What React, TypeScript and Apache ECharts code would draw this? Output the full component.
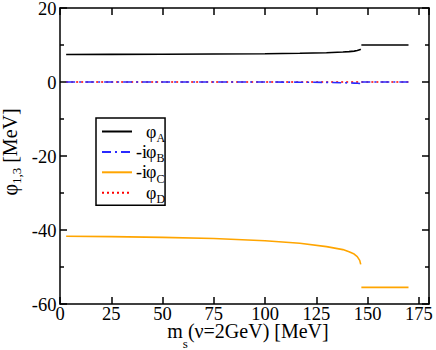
import React, { useEffect, useRef } from "react";
import * as echarts from "echarts";

const xLeft = [3, 25, 50, 75, 100, 117, 130, 138, 141, 143.5, 145, 146.2, 146.7];
const xRight = [147, 170];
const phiALeft = [7.45, 7.47, 7.5, 7.57, 7.65, 7.75, 7.9, 8.1, 8.2, 8.35, 8.5, 8.7, 8.9];
const phiARight = [10, 10];
const phiBLeft = [0, 0, 0, 0, 0, -0.05, -0.1, -0.2, -0.25, -0.3, -0.35, -0.4, -0.4];
const phiBRight = [0, 0];
const phiCLeft = [-41.7, -41.8, -42.0, -42.3, -42.9, -43.6, -44.5, -45.3, -45.9, -46.5, -47.2, -48.2, -49.3];
const phiCRight = [-55.5, -55.5];
const phiDLeft = [0, 0, 0, 0, 0, 0, 0, 0, 0, 0, 0, 0, 0];
const phiDRight = [0, 0];

const xTickLabels = [0, 25, 50, 75, 100, 125, 150, 175];
const yTickLabels = [-60, -40, -20, 0, 20];

const seriesNames = ["φA", "-iφB", "-iφC", "φD"];
const legendPrefix = ["", "-i", "-i", ""];
const legendSub = ["A", "B", "C", "D"];

const FONT = "Liberation Serif";

function pairs(xl: number[], yl: number[], xr: number[], yr: number[]) {
  const out: any[] = [];
  xl.forEach((x, i) => out.push([x, yl[i]]));
  out.push([146.85, null]);
  xr.forEach((x, i) => out.push([x, yr[i]]));
  return out;
}

const rich = {
  n: { fontFamily: FONT, fontSize: 20, color: "#000", lineHeight: 18, verticalAlign: "middle" },
  s: { fontFamily: FONT, fontSize: 13, color: "#000", lineHeight: 18, padding: [24, 0, 0, 0], verticalAlign: "middle" },
  t: { fontFamily: FONT, fontSize: 13, color: "#000", lineHeight: 18, padding: [13, 0, 0, 0], verticalAlign: "middle" },
  p: { fontFamily: FONT, fontSize: 18, color: "#000", width: 9, align: "right", lineHeight: 20, verticalAlign: "middle" },
  f: { fontFamily: FONT, fontSize: 18, color: "#000", lineHeight: 20, verticalAlign: "middle" },
  q: { fontFamily: FONT, fontSize: 12, color: "#000", lineHeight: 20, padding: [13, 0, 0, 0], verticalAlign: "middle" },
  v: { fontFamily: FONT, fontSize: 18.5, color: "#000", lineHeight: 16, verticalAlign: "middle" },
};

export default function App() {
  const ref = useRef<HTMLDivElement>(null);
  useEffect(() => {
    if (!ref.current) return;
    const chart = echarts.init(ref.current, null, { renderer: "svg" });
    const axisLine = { show: true, onZero: false, lineStyle: { color: "#000", width: 1.5 } };
    const tick = { show: true, inside: true, length: 7, lineStyle: { color: "#000", width: 1.5 } };
    const minor = { show: true, splitNumber: 2, length: 4, lineStyle: { color: "#000", width: 1.5 } };
    const colors = ["#000000", "#2a2aff", "#ffa500", "#ff0000"];
    const dashes: any[] = ["solid", [9, 4, 2, 4], "solid", [2, 3]];
    const dataSets = [
      pairs(xLeft, phiALeft, xRight, phiARight),
      pairs(xLeft, phiBLeft, xRight, phiBRight),
      pairs(xLeft, phiCLeft, xRight, phiCRight),
      pairs(xLeft, phiDLeft, xRight, phiDRight),
    ];
    const xAxisBase = {
      type: "value",
      min: 0,
      max: 180,
      interval: 25,
      axisLine,
      axisTick: tick,
      axisLabel: { show: false },
      splitLine: { show: false },
    };
    const yAxisBase = {
      type: "value",
      min: -60,
      max: 20,
      interval: 20,
      axisLine,
      axisTick: tick,
      minorTick: minor,
      axisLabel: { show: false },
      splitLine: { show: false },
    };
    chart.setOption({
      animation: false,
      textStyle: { fontFamily: FONT },
      grid: { left: 60, top: 8, right: 7, bottom: 46, containLabel: false },
      xAxis: [
        { ...xAxisBase, position: "bottom" },
        { ...xAxisBase, position: "top" },
      ],
      yAxis: [
        { ...yAxisBase, position: "left" },
        { ...yAxisBase, position: "right" },
      ],
      legend: {
        orient: "vertical",
        left: 96,
        top: 118,
        itemWidth: 30,
        itemHeight: 14,
        itemGap: -4.6,
        padding: [1, 0, 0, 5],
        borderColor: "#000",
        borderWidth: 1.5,
        itemStyle: { opacity: 0 },
        data: seriesNames,
        formatter: (name: string) => {
          const i = seriesNames.indexOf(name);
          return `{p|${legendPrefix[i] || " "}}{f|φ}{q|${legendSub[i]}}`;
        },
        textStyle: { rich },
      },
      series: seriesNames.map((name, i) => ({
        name,
        type: "line",
        data: dataSets[i],
        showSymbol: false,
        symbol: "none",
        connectNulls: false,
        lineStyle: { color: colors[i], width: 1.6, type: dashes[i] },
        itemStyle: { color: colors[i] },
        z: 10 - i,
      })),
    });

    const gridBottom = 350 - 46;
    const gridLeft = 60;
    const xTickTexts = xTickLabels.map((v) => ({
      type: "text",
      x: chart.convertToPixel({ xAxisIndex: 0 }, v) as number,
      y: gridBottom + 10,
      style: { text: `{v|${v}}`, rich, align: "center", verticalAlign: "middle" },
    }));
    const yTickTexts = yTickLabels.map((v) => ({
      type: "text",
      x: gridLeft - 3.5,
      y: (chart.convertToPixel({ yAxisIndex: 0 }, v) as number) + 0.5,
      style: { text: `{v|${v}}`, rich, align: "right", verticalAlign: "middle" },
    }));

    chart.setOption({
      graphic: [
        ...xTickTexts,
        ...yTickTexts,
        {
          type: "text",
          x: 248,
          y: 331,
          style: {
            text: "{n|m}{s|s}{n|(ν=2GeV) [MeV]}",
            rich,
            align: "center",
            verticalAlign: "middle",
          },
        },
        {
          type: "text",
          x: 10,
          y: 152,
          rotation: Math.PI / 2,
          style: {
            text: "{n|φ}{t|1,3}{n| [MeV]}",
            rich,
            align: "center",
            verticalAlign: "middle",
          },
        },
      ],
    });
    return () => chart.dispose();
  }, []);
  return <div ref={ref} style={{ width: 436, height: 350, position: "absolute", left: 0, top: 0 }} />;
}
